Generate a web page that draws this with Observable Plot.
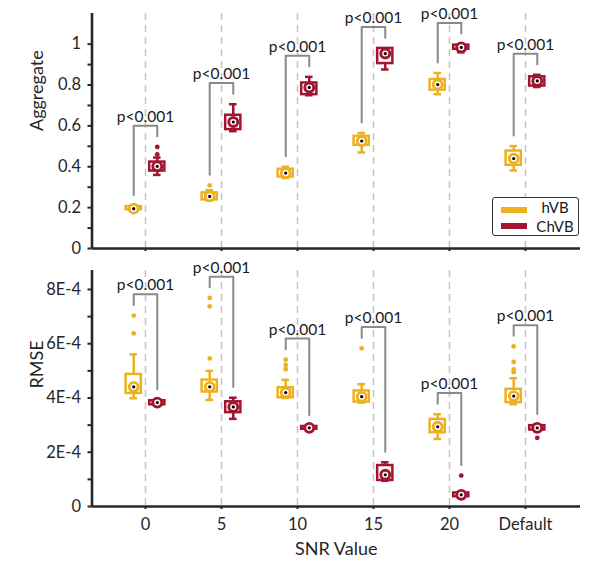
<!DOCTYPE html>
<html><head><meta charset="utf-8">
<script src="https://cdn.jsdelivr.net/npm/d3@7"></script>
<script src="https://cdn.jsdelivr.net/npm/@observablehq/plot@0.6"></script>
<style>
html,body{margin:0;padding:0;background:#fff;}
#wrap{position:relative;width:589px;height:572px;font-family:Lato,sans-serif;color:#262626;}
#wrap svg{display:block;}
.legend{position:absolute;left:492px;top:197px;width:87px;height:39px;border:1.3px solid #333;border-radius:3px;background:#fff;box-sizing:border-box;}
.legend .sw{position:absolute;left:8px;width:26px;height:6px;}
.legend .lb{position:absolute;left:40px;width:44px;text-align:center;font-size:15px;line-height:15px;height:15px;color:#1a1a1a;}
</style></head>
<body><div id="wrap"></div>
<script>
// ---------- data ----------
const categories = ["0", "5", "10", "15", "20", "Default"];
const seriesNames = ["hVB", "ChVB"];
const seriesColors = ["#EDB120", "#A2142F"];
const pLabel = "p<0.001";

// five-number summaries: [lower whisker, Q1, median, Q3, upper whisker]
const aggregateHVB = [
  [0.185, 0.19, 0.195, 0.205, 0.21],
  [0.235, 0.238, 0.255, 0.272, 0.285],
  [0.345, 0.35, 0.369, 0.388, 0.40],
  [0.47, 0.505, 0.526, 0.549, 0.565],
  [0.755, 0.775, 0.802, 0.827, 0.859],
  [0.382, 0.407, 0.44, 0.477, 0.501]
];
const aggregateHVBOutliers = [[], [0.309], [], [], [], []];
const aggregateChVB = [
  [0.36, 0.379, 0.402, 0.423, 0.445],
  [0.574, 0.582, 0.619, 0.652, 0.706],
  [0.75, 0.753, 0.788, 0.81, 0.84],
  [0.876, 0.905, 0.954, 0.979, 0.98],
  [0.96, 0.975, 0.984, 0.995, 1.0],
  [0.79, 0.795, 0.82, 0.84, 0.85]
];
const aggregateChVBOutliers = [[0.46, 0.497], [], [], [], [], []];

const rmseHVB = [
  [3.99e-4, 4.17e-4, 4.41e-4, 4.87e-4, 5.61e-4],
  [3.93e-4, 4.22e-4, 4.41e-4, 4.66e-4, 5.0e-4],
  [4.0e-4, 4.01e-4, 4.2e-4, 4.38e-4, 4.67e-4],
  [3.83e-4, 3.85e-4, 4.05e-4, 4.26e-4, 4.51e-4],
  [2.49e-4, 2.72e-4, 2.94e-4, 3.21e-4, 3.4e-4],
  [3.77e-4, 3.83e-4, 4.07e-4, 4.32e-4, 4.73e-4]
];
const rmseHVBOutliers = [
  [6.38e-4, 7.04e-4],
  [5.46e-4, 7.38e-4, 7.69e-4],
  [5.06e-4, 5.22e-4, 5.41e-4],
  [5.83e-4],
  [],
  [4.95e-4, 5.05e-4, 5.33e-4, 5.9e-4]
];
const rmseChVB = [
  [3.72e-4, 3.75e-4, 3.83e-4, 3.9e-4, 3.93e-4],
  [3.23e-4, 3.46e-4, 3.67e-4, 3.86e-4, 4.01e-4],
  [2.82e-4, 2.85e-4, 2.9e-4, 2.95e-4, 2.98e-4],
  [0.95e-4, 0.96e-4, 1.17e-4, 1.51e-4, 1.63e-4],
  [0.33e-4, 0.36e-4, 0.43e-4, 0.5e-4, 0.53e-4],
  [2.78e-4, 2.82e-4, 2.9e-4, 2.98e-4, 3.02e-4]
];
const rmseChVBOutliers = [[], [], [], [], [1.14e-4], [2.53e-4]];

const aggregateTicks = [0, 0.2, 0.4, 0.6, 0.8, 1];
const aggregateTickLabels = ["0", "0.2", "0.4", "0.6", "0.8", "1"];
const aggregateMinorTicks = [0.1, 0.3, 0.5, 0.7, 0.9];
const rmseTicks = [0, 2e-4, 4e-4, 6e-4, 8e-4];
const rmseTickLabels = ["0", "2E-4", "4E-4", "6E-4", "8E-4"];
const rmseMinorTicks = [1e-4, 3e-4, 5e-4, 7e-4];

// ---------- layout helpers ----------
const W = 589;
const xDomain = [-0.704, 5.724];
const offsets = [-0.155, 0.155];
const ink = "#262626";

function boxRows(stats) {
  const rows = [];
  stats.forEach((s, k) => s.forEach((v, i) => rows.push({
    series: seriesNames[k], i, x: i + offsets[k],
    lo: v[0], q1: v[1], med: v[2], q3: v[3], hi: v[4]
  })));
  return rows;
}
function outlierRows(outs) {
  const rows = [];
  outs.forEach((o, k) => o.forEach((vals, i) => vals.forEach(v => rows.push({series: seriesNames[k], x: i + offsets[k], y: v}))));
  return rows;
}
function bracketRows(stats, outs, gap) {
  return categories.map((c, i) => {
    const hMax = Math.max(stats[0][i][4], ...outs[0][i]);
    const cMax = Math.max(stats[1][i][4], ...outs[1][i]);
    const l = hMax + gap, r = cMax + gap, top = Math.max(l, r) + gap;
    return {i, l, r, top};
  });
}
function bracketPoints(br) {
  const pts = [];
  br.forEach(b => {
    pts.push({i: b.i, x: b.i + offsets[0], y: b.l});
    pts.push({i: b.i, x: b.i + offsets[0], y: b.top});
    pts.push({i: b.i, x: b.i + offsets[1], y: b.top});
    pts.push({i: b.i, x: b.i + offsets[1], y: b.r});
  });
  return pts;
}
function labelFor(ticks, labels) {
  return d => { const k = ticks.findIndex(t => Math.abs(t - d) < 1e-12); return k < 0 ? "" : labels[k]; };
}

function panel(o) {
  const boxes = boxRows(o.stats);
  const outliers = outlierRows(o.outs);
  const br = bracketRows(o.stats, o.outs, o.yDomain[1] * 0.045);
  const idx = categories.map((c, i) => i);
  const marks = [
    Plot.ruleX(idx, {x: d => d, stroke: "#c4c4c4", strokeWidth: 1.5, strokeDasharray: "7,5"}),
    Plot.line(bracketPoints(br), {x: "x", y: "y", z: "i", stroke: "#8a8a8a", strokeWidth: 2}),
    Plot.text(br, {x: "i", y: "top", text: () => pLabel, lineAnchor: "bottom", dy: -4, fontSize: 15.5, fill: "#1a1a1a"}),
    Plot.ruleX(boxes, {x: "x", y1: "lo", y2: "hi", stroke: "series", strokeWidth: 2.5}),
    Plot.ruleY(boxes, {y: "lo", x1: d => d.x - 0.05, x2: d => d.x + 0.05, stroke: "series", strokeWidth: 2.5}),
    Plot.ruleY(boxes, {y: "hi", x1: d => d.x - 0.05, x2: d => d.x + 0.05, stroke: "series", strokeWidth: 2.5}),
    Plot.rect(boxes, {x1: d => d.x - 0.1, x2: d => d.x + 0.1, y1: "q1", y2: "q3", fill: "white", stroke: "series", strokeWidth: 2.5}),
    Plot.dot(outliers, {x: "x", y: "y", r: 2.4, fill: "series", stroke: "none"}),
    Plot.dot(boxes, {x: "x", y: "med", r: 4.5, fill: "white", stroke: "series", strokeWidth: 2.9}),
    Plot.dot(boxes, {x: "x", y: "med", r: 1.6, fill: "black", stroke: "none"}),
    Plot.ruleX([xDomain[0]], {x: d => d, stroke: ink, strokeWidth: 2.6}),
    Plot.ruleY([0], {y: d => d, stroke: ink, strokeWidth: 2.6}),
    Plot.axisY({ticks: o.ticks, tickFormat: labelFor(o.ticks, o.tickLabels), tickSize: 4, tickPadding: 7, strokeWidth: 2, stroke: ink, label: null, fontSize: 16.5}),
    Plot.axisY({ticks: o.minor, tickFormat: () => "", tickSize: 4, strokeWidth: 2, stroke: ink, label: null}),
    Plot.axisX({ticks: idx, tickFormat: o.xLabels ? (d => categories[Math.round(d)]) : (() => ""), tickSize: 3, tickPadding: 9, strokeWidth: 2, stroke: ink, label: null, fontSize: 16.5}),
    Plot.text([o.yLabel], {text: d => d, frameAnchor: "left", rotate: -90, dx: -55, fontSize: 18, fill: ink})
  ];
  if (o.xTitle) marks.push(Plot.text([o.xTitle], {text: d => d, frameAnchor: "bottom", dy: 48, fontSize: 18, fill: ink}));
  return Plot.plot({
    width: W, height: o.height,
    marginLeft: 91.5, marginRight: 9, marginTop: o.marginTop, marginBottom: o.marginBottom,
    style: {fontFamily: "Lato, sans-serif", fontSize: "16px", color: ink, background: "transparent", overflow: "visible"},
    x: {domain: xDomain},
    y: {domain: o.yDomain},
    color: {domain: seriesNames, range: seriesColors},
    marks
  });
}

const wrap = document.getElementById("wrap");
wrap.appendChild(panel({
  height: 251, marginTop: 13, marginBottom: 3, yDomain: [0, 1.15],
  stats: [aggregateHVB, aggregateChVB], outs: [aggregateHVBOutliers, aggregateChVBOutliers],
  ticks: aggregateTicks, tickLabels: aggregateTickLabels, minor: aggregateMinorTicks,
  yLabel: "Aggregate", xLabels: false
}));
wrap.appendChild(panel({
  height: 321, marginTop: 19, marginBottom: 66, yDomain: [0, 8.7e-4],
  stats: [rmseHVB, rmseChVB], outs: [rmseHVBOutliers, rmseChVBOutliers],
  ticks: rmseTicks, tickLabels: rmseTickLabels, minor: rmseMinorTicks,
  yLabel: "RMSE", xLabels: true, xTitle: "SNR Value"
}));

// legend
const legend = document.createElement("div");
legend.className = "legend";
seriesNames.forEach((name, k) => {
  const sw = document.createElement("div");
  sw.className = "sw";
  sw.style.top = (k === 0 ? 8.5 : 24.5) + "px";
  sw.style.background = seriesColors[k];
  const lb = document.createElement("div");
  lb.className = "lb";
  lb.style.top = (k === 0 ? 2.3 : 20.9) + "px";
  lb.textContent = name;
  legend.appendChild(sw);
  legend.appendChild(lb);
});
wrap.appendChild(legend);
</script>
</body></html>
